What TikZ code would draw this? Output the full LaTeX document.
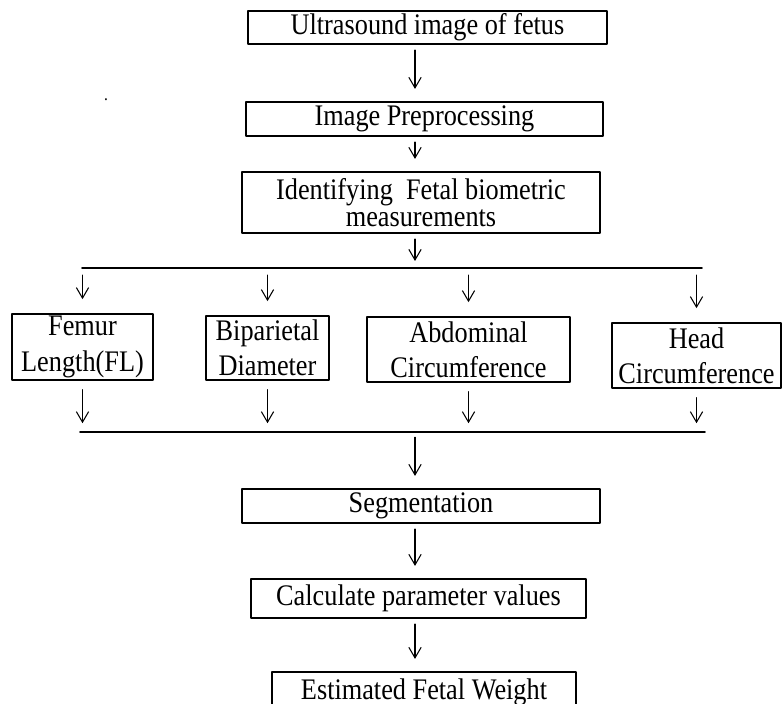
\documentclass[tikz,border=0pt]{standalone}
\usepackage{fontspec}
\setmainfont{Liberation Serif}[FakeStretch=0.88]
\usetikzlibrary{arrows.meta}

\begin{document}
\begin{tikzpicture}[line cap=round,line join=round,>={Straight Barb[length=6pt,width=7pt]},x=0.02cm,y=0.02cm,
  stage/.style={draw,line width=0.9pt,inner sep=0pt,align=center,font=\fontsize{17}{20}\selectfont},
  flow/.style={->,line width=0.6pt,shorten <=3pt,shorten >=7pt},
  bus/.style={line width=0.9pt}]
\useasboundingbox (0,0) rectangle (782,704);
\clip(0,0) rectangle (782,704);
\node[stage,minimum width=7.18cm,minimum height=0.66cm] (ultra) at (427.5,676.5) {Ultrasound image of fetus};
\node[stage,minimum width=7.14cm,minimum height=0.68cm] (prep) at (424.5,585) {Image Preprocessing};
\node[stage,minimum width=7.16cm,minimum height=1.22cm,font=\fontsize{17}{15.5}\selectfont] (ident) at (421,501.5) {Identifying \ Fetal biometric\\measurements};
\node[stage,minimum width=2.82cm,minimum height=1.32cm] (femur) at (82.5,357) {Femur\\Length(FL)};
\node[stage,minimum width=2.46cm,minimum height=1.28cm] (bip) at (267.5,356) {Biparietal\\Diameter};
\node[stage,minimum width=4.06cm,minimum height=1.30cm] (abd) at (468.5,354.5) {Abdominal\\Circumference};
\node[stage,minimum width=3.38cm,minimum height=1.30cm] (head) at (696.5,348.5) {Head\\Circumference};
\node[stage,minimum width=7.16cm,minimum height=0.68cm] (seg) at (421,198) {Segmentation};
\node[stage,minimum width=6.70cm,minimum height=0.78cm] (calc) at (418.5,105.5) {Calculate parameter values};
\node[stage,minimum width=6.08cm,minimum height=0.80cm] (est) at (424,12) {Estimated Fetal Weight};
\node (speck) at (106,604) {.};
\coordinate (spine) at (415,0);
\coordinate (busAl) at (82,436);
\coordinate (busAr) at (702,436);
\coordinate (busBl) at (80,272);
\coordinate (busBr) at (705,272);
\draw[bus] (busAl)-- (busAr);
\draw[bus] (busBl)-- (busBr);
\draw[flow] (ultra.south -| spine)-- (prep.north -| spine);
\draw[flow] (prep.south -| spine)-- (ident.north -| spine);
\draw[flow,shorten >=4pt] (ident.south -| spine)-- (busAl -| spine);
\draw[flow,shorten <=4pt,shorten >=8pt] (femur.north |- busAl)-- (femur.north);
\draw[flow,shorten <=4pt,shorten >=8pt] (bip.north |- busAl)-- (bip.north);
\draw[flow,shorten <=4pt,shorten >=8pt] (abd.north |- busAl)-- (abd.north);
\draw[flow,shorten <=4pt,shorten >=8pt] (head.north |- busAl)-- (head.north);
\draw[flow,shorten <=5pt,shorten >=5pt] (femur.south)-- (femur.south |- busBl);
\draw[flow,shorten <=5pt,shorten >=5pt] (bip.south)-- (bip.south |- busBl);
\draw[flow,shorten <=5pt,shorten >=5pt] (abd.south)-- (abd.south |- busBl);
\draw[flow,shorten <=5pt,shorten >=5pt] (head.south)-- (head.south |- busBl);
\draw[flow] (busBl -| spine)-- (seg.north -| spine);
\draw[flow] (seg.south -| spine)-- (calc.north -| spine);
\draw[flow] (calc.south -| spine)-- (est.north -| spine);
\end{tikzpicture}
\end{document}
